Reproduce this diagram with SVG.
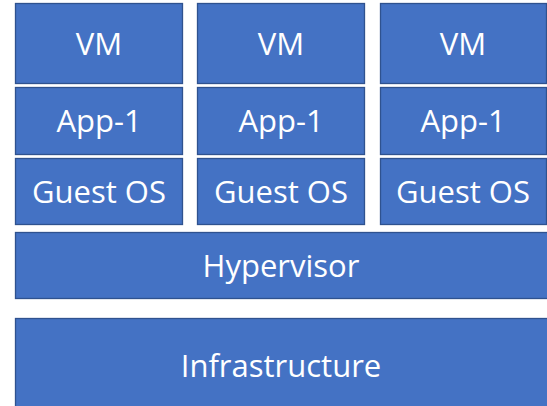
<svg xmlns="http://www.w3.org/2000/svg" width="547" height="406" viewBox="0 0 547 406">
<style>
.box{fill:#4472C4;stroke:#2F528F;stroke-width:1.3}
.lbl{fill:#FFFFFF;font-family:"Open Sans","Noto Sans",sans-serif;font-size:31px;text-anchor:middle}
</style>
<rect width="547" height="406" fill="#FFFFFF"/>
<g id="vm1"><rect class="box" x="15.5" y="3.5" width="167" height="80"/><text class="lbl" x="99" y="55">VM</text></g>
<g id="vm2"><rect class="box" x="197.5" y="3.5" width="167" height="80"/><text class="lbl" x="281" y="55">VM</text></g>
<g id="vm3"><rect class="box" x="380.5" y="3.5" width="166" height="80"/><text class="lbl" x="463" y="55">VM</text></g>
<g id="app1"><rect class="box" x="15.5" y="87.5" width="167" height="67"/><text class="lbl" x="99" y="132">App-1</text></g>
<g id="app2"><rect class="box" x="197.5" y="87.5" width="167" height="67"/><text class="lbl" x="281" y="132">App-1</text></g>
<g id="app3"><rect class="box" x="380.5" y="87.5" width="166" height="67"/><text class="lbl" x="463" y="132">App-1</text></g>
<g id="os1"><rect class="box" x="15.5" y="158.5" width="167" height="66"/><text class="lbl" x="99" y="203">Guest OS</text></g>
<g id="os2"><rect class="box" x="197.5" y="158.5" width="167" height="66"/><text class="lbl" x="281" y="203">Guest OS</text></g>
<g id="os3"><rect class="box" x="380.5" y="158.5" width="166" height="66"/><text class="lbl" x="463" y="203">Guest OS</text></g>
<g id="hypervisor"><rect class="box" x="15.5" y="232.5" width="540" height="66"/><text class="lbl" x="281" y="277">Hypervisor</text></g>
<g id="infrastructure"><rect class="box" x="15.5" y="318.5" width="540" height="100"/><text class="lbl" x="281" y="377">Infrastructure</text></g>
<g id="connectors"></g>
</svg>
